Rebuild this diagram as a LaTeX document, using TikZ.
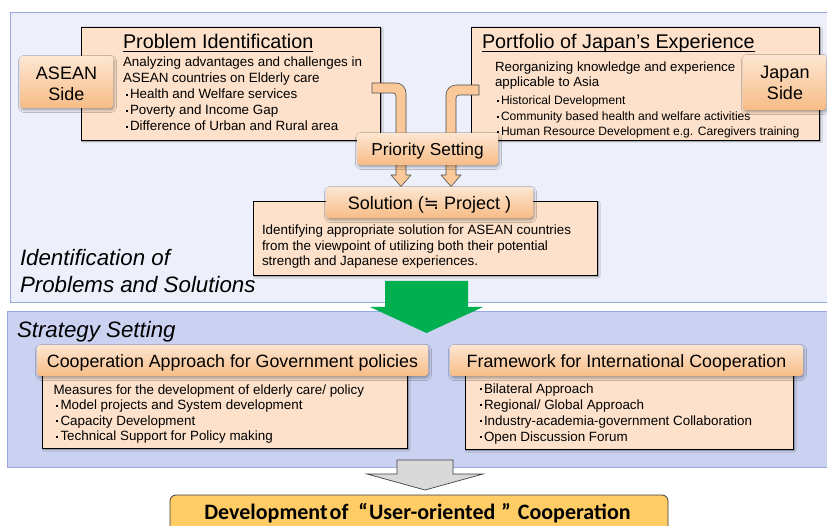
\documentclass[tikz,border=0pt]{standalone}
\usepackage{fontspec}
\setmainfont{Liberation Sans}
\newfontfamily\carlito{Carlito}
\newfontfamily\djv{DejaVu Sans}
\usetikzlibrary{shadows.blur}
\definecolor{panelFill}{HTML}{EDF0FA}
\definecolor{panelLine}{HTML}{9AA8E2}
\definecolor{stratFill}{HTML}{CBD2F1}
\definecolor{peachFill}{HTML}{FDE1CA}
\definecolor{tabTop}{HTML}{FDE6D1}
\definecolor{tabBot}{HTML}{F7BC86}
\definecolor{pipeFill}{HTML}{FBC999}
\definecolor{greenArrow}{HTML}{00B050}
\definecolor{grayArrow}{HTML}{D9D9D9}
\definecolor{goal}{HTML}{FFCC66}
\newcommand\fs[2]{\fontsize{#1}{#2}\selectfont}
% small square list marker
\newcommand\bl{\kern2.9pt\raisebox{2.8pt}{\rule{2pt}{2pt}}\kern2.1pt}
\begin{document}
\begin{tikzpicture}[x=1pt,y=-1pt,
  box/.style={anchor=north west, inner sep=0pt, outer sep=0pt},
  panel/.style={box, draw=panelLine, line width=1pt},
  peach/.style={box, draw=black, line width=0.8pt, fill=peachFill,
    blur shadow={shadow xshift=1.5pt, shadow yshift=-1.5pt, shadow blur radius=1.5pt, shadow opacity=45}},
  tab/.style={box, rounded corners=3pt, top color=tabTop, bottom color=tabBot,
    blur shadow={shadow xshift=1pt, shadow yshift=-2pt, shadow blur radius=2.5pt, shadow opacity=35}},
  txt/.style={inner sep=0pt, outer sep=0pt, align=left, anchor=north west},
  lbl/.style={inner sep=0pt, outer sep=0pt, anchor=base},
  pipe/.style={draw=black!70, line width=0.6pt, fill=pipeFill, line join=round},
  blockarrow/.style={line join=miter},
]
\useasboundingbox (0,0) rectangle (827,526);
\fill[white] (0,0) rectangle (827,526);

% ---- background panels ----
\node[panel, fill=panelFill, minimum width=820pt, minimum height=290pt] (topPanel) at (10,13) {};
\node[panel, fill=stratFill, minimum width=823pt, minimum height=155pt] (stratPanel) at (7,312) {};

\node[txt, font=\fs{22.3}{27}\itshape] (idLabel) at (20,247.1) {\strut Identification of\\Problems and Solutions};
\node[lbl, anchor=base west, font=\fs{22.3}{26}\itshape] (stratLabel) at (17,338) {Strategy Setting};

% ---- problem / portfolio boxes ----
\node[peach, minimum width=299pt, minimum height=113pt] (probBox) at (81,27) {};
\node[peach, minimum width=348pt, minimum height=113pt] (portBox) at (471,27) {};

\node[lbl, anchor=base west, font=\fs{19.8}{23}] (probT) at (123,49) {Problem Identification};
\draw[line width=0.9pt] ([yshift=-2.8pt]probT.base west) -- ([yshift=-2.8pt]probT.base east);
\node[txt, font=\fs{13.4}{16}] (probTx) at (123,55.8) {\strut Analyzing advantages and challenges in\\ASEAN countries on Elderly care\\\bl Health and Welfare services\\\bl Poverty and Income Gap\\\bl Difference of Urban and Rural area};

\node[lbl, anchor=base west, font=\fs{19.8}{23}] (portT) at (482,49) {Portfolio of Japan’s Experience};
\draw[line width=0.9pt] ([yshift=-2.8pt]portT.base west) -- ([yshift=-2.8pt]portT.base east);
\node[txt, font=\fs{13.3}{15}] (portTx) at (495,61) {\strut Reorganizing knowledge and experience\\applicable to Asia};
\node[txt, font=\fs{12.1}{15.5}] (portBl) at (494,94.15) {\strut\bl Historical Development\\\bl Community based health and  welfare activities\\\bl Human Resource Development e.g. Caregivers training};

% ---- side tabs ----
\node[tab, minimum width=93pt, minimum height=52pt] (aseanTab) at (20,56) {};
\node[txt, align=center, anchor=north, font=\fs{18}{21}] (aseanTx) at (66.5,65.3) {\strut ASEAN\\Side};
\node[tab, minimum width=83pt, minimum height=55pt] (japanTab) at (743,55) {};
\node[txt, align=center, anchor=north, font=\fs{18}{21}] (japanTx) at (785,64.3) {\strut Japan\\Side};

% ---- bent arrows into the solution ----
\path[pipe] (372,83) -- (396,83) .. controls (401.5,83) and (406,87.5) .. (406,93)
  -- (406,175) -- (411,175) -- (401,186.5) -- (391,175) -- (396,175)
  -- (396,96) .. controls (396,94.3) and (394.7,93) .. (393,93) -- (372,93) -- cycle;
\path[pipe] (479,85) -- (456,85) .. controls (450.5,85) and (446,89.5) .. (446,95)
  -- (446,175) -- (441,175) -- (451,186.5) -- (461,175) -- (456,175)
  -- (456,98) .. controls (456,96.3) and (457.3,95) .. (459,95) -- (479,95) -- cycle;

\node[tab, minimum width=141pt, minimum height=32pt] (prioTab) at (357,133) {};
\node[lbl, font=\fs{17.3}{20}] (prioTx) at (427.5,156) {Priority Setting};

% ---- solution ----
\node[peach, minimum width=344pt, minimum height=74pt] (solBox) at (253,201) {};
\node[tab, minimum width=207pt, minimum height=31pt] (solTab) at (326,187) {};
\node[lbl, font=\fs{18}{21}] (solTx) at (429.5,210) {Solution ({\djv ≒} Project )};
\node[txt, font=\fs{13.4}{15.5}] (solBody) at (262,224.15) {\strut Identifying appropriate solution for ASEAN countries\\from the viewpoint of utilizing both their potential\\strength and Japanese experiences.};

% ---- green arrow down to strategy ----
\fill[greenArrow, blockarrow] (385,281) -- (468,281) -- (468,307) -- (483,307) -- (426.5,333) -- (370,307) -- (385,307) -- cycle;

% ---- strategy boxes ----
\node[peach, minimum width=365pt, minimum height=78pt] (coopBox) at (42,370) {};
\node[tab, minimum width=391pt, minimum height=31pt] (coopTab) at (37,345) {};
\node[lbl, font=\fs{17.8}{20}] (coopTx) at (232.5,367) {Cooperation Approach for Government policies};
\node[txt, font=\fs{13.4}{15.5}] (coopBody) at (53.5,383.15) {\strut Measures for the development of elderly care/ policy\\\bl Model projects and System development\\\bl Capacity Development\\\bl Technical Support for Policy making};

\node[peach, minimum width=328pt, minimum height=79pt] (frameBox) at (465,370) {};
\node[tab, minimum width=353pt, minimum height=31pt] (frameTab) at (450,345) {};
\node[lbl, font=\fs{17.8}{20}] (frameTx) at (626.5,367) {Framework for International Cooperation};
\node[txt, font=\fs{13.4}{16}] (frameBody) at (477,381.8) {\strut\bl Bilateral Approach\\\bl Regional/ Global Approach\\\bl Industry-academia-government Collaboration\\\bl Open Discussion Forum};

% ---- gray arrow and goal ----
\filldraw[fill=grayArrow, draw=black!75, line width=0.7pt, blockarrow] (397,460) -- (453,460) -- (453,474) -- (483,474) -- (425,490) -- (367,474) -- (397,474) -- cycle;
\node[box, draw=black!75, line width=0.8pt, fill=goal, rounded corners=6pt, minimum width=498pt, minimum height=45pt] (goalBox) at (170,495) {};
\node[lbl, font=\carlito\bfseries\fs{22}{25}] (goalTx) at (417.5,519.5) {Development\hspace{2pt}of\hspace{10pt}“\hspace{1pt}User-oriented\hspace{6pt}”\hspace{7pt}Cooperation};
\end{tikzpicture}
\end{document}
